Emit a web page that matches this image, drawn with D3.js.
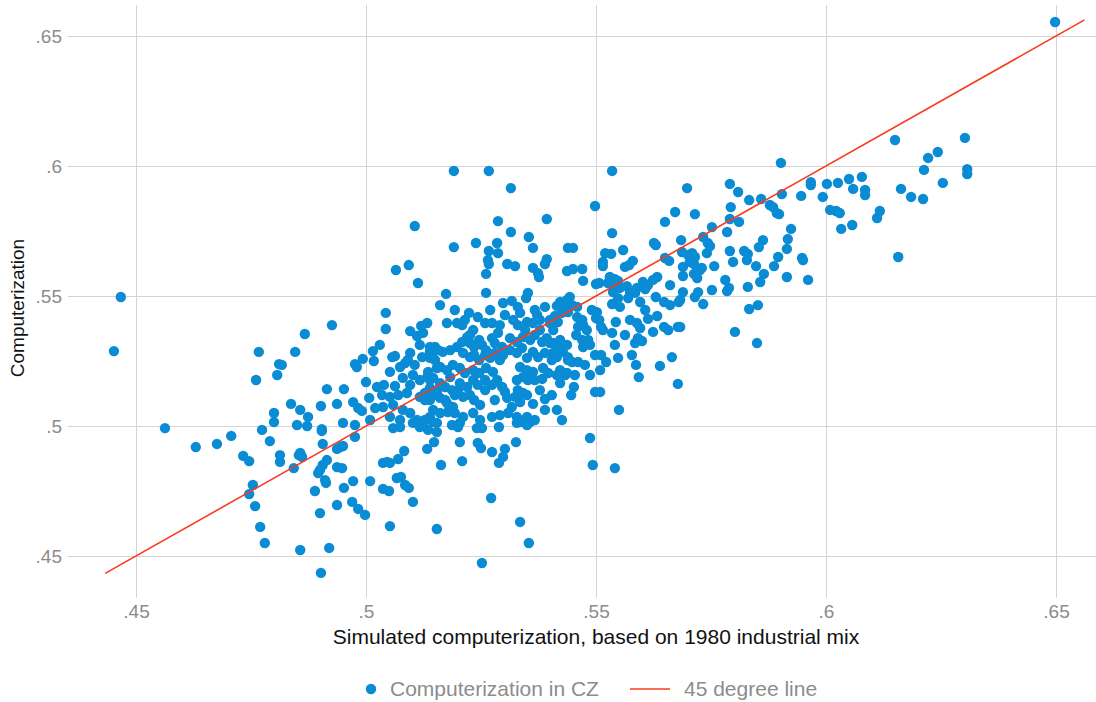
<!DOCTYPE html>
<html>
<head>
<meta charset="utf-8">
<script src="https://cdn.jsdelivr.net/npm/d3@7"></script>
<style>
  body { margin: 0; background: #fff; }
  text { font-family: Arial, "Liberation Sans", Helvetica, sans-serif; }
</style>
</head>
<body>
<div id="chart"></div>
<script>
// chart size
var svgWidth = 1096;
var svgHeight = 702;

// data: [simulated computerization, computerization] for each CZ
var czPoints = [
  [.4467,.5496],[.4452,.5288],[.4563,.4992],[.4630,.4919],[.4676,.4931],[.4707,.4962],[.4733,.4885],[.4746,.4865],
  [.4754,.4773],[.4746,.4738],[.4759,.4692],[.4770,.4612],[.4780,.4550],[.4767,.5285],[.4761,.5177],[.4811,.5238],
  [.4817,.5235],[.4807,.5196],[.4846,.5285],[.4837,.5085],[.4800,.5050],[.4800,.5015],[.4774,.4985],[.4791,.4942],
  [.4813,.4888],[.4813,.4862],[.4843,.4838],[.4857,.4523],[.4850,.5004],[.4857,.5062],[.4854,.4888],
  [.5113,.5550],[.5043,.5435],[.5043,.5373],[.4926,.5388],[.4867,.5354],[.5096,.5365],[.5111,.5346],[.5120,.5385],
  [.5133,.5396],[.5015,.5288],[.5017,.5250],[.4993,.5258],[.4976,.5238],[.4980,.5227],[.5057,.5265],[.5063,.5269],
  [.5074,.5227],[.5085,.5242],[.5091,.5254],[.5096,.5281],[.5122,.5265],[.5139,.5285],[.5150,.5304],[.5000,.5169],
  [.4915,.5142],[.4952,.5142],[.5024,.5150],[.5039,.5158],[.5063,.5154],[.5007,.5108],[.4874,.5035],[.4872,.5000],
  [.4902,.5077],[.4937,.5085],[.4972,.5092],[.4983,.5069],[.4991,.5058],[.4950,.5012],[.4904,.4988],[.4976,.5004],
  [.5009,.5023],[.5020,.5069],[.5035,.5119],[.5052,.5112],[.5070,.5119],[.5089,.5127],[.5037,.5073],[.5059,.5081],
  [.5080,.5062],[.5052,.5035],[.5074,.5023],[.5096,.5050],[.5111,.5023],[.5146,.5119],[.5154,.5138],[.5139,.5177],
  [.5135,.5208],[.5154,.5223],[.5146,.5062],[.5139,.5035],[.5154,.5012],[.5128,.5100],
  [.5174,.5508],[.5261,.5512],[.5352,.5512],[.5348,.5492],[.5298,.5473],[.5317,.5481],[.5330,.5458],[.5335,.5435],
  [.5367,.5446],[.5372,.5427],[.5389,.5458],[.5224,.5435],[.5243,.5419],[.5176,.5396],[.5198,.5396],[.5209,.5388],
  [.5124,.5358],[.5259,.5396],[.5274,.5396],[.5233,.5369],[.5226,.5350],[.5320,.5408],[.5330,.5388],[.5350,.5400],
  [.5363,.5396],[.5378,.5408],[.5400,.5396],[.5139,.5304],[.5146,.5285],[.5157,.5292],[.5167,.5285],[.5183,.5292],
  [.5150,.5254],[.5139,.5262],[.5198,.5304],[.5209,.5323],[.5220,.5342],[.5226,.5319],[.5235,.5304],[.5246,.5331],
  [.5252,.5312],[.5261,.5292],[.5274,.5338],[.5280,.5319],[.5287,.5358],[.5296,.5304],[.5211,.5281],[.5226,.5265],
  [.5235,.5273],[.5246,.5254],[.5259,.5273],[.5270,.5262],[.5280,.5281],[.5291,.5254],[.5298,.5273],[.5161,.5227],
  [.5176,.5215],[.5189,.5235],[.5204,.5223],[.5215,.5204],[.5233,.5215],[.5246,.5204],[.5261,.5223],[.5276,.5208],
  [.5313,.5338],[.5328,.5323],[.5341,.5342],[.5357,.5331],[.5367,.5350],[.5383,.5323],[.5393,.5338],[.5407,.5319],
  [.5422,.5331],[.5437,.5312],[.5313,.5292],[.5328,.5281],[.5339,.5300],[.5350,.5262],[.5363,.5285],[.5374,.5265],
  [.5389,.5281],[.5404,.5254],[.5415,.5273],[.5428,.5285],[.5439,.5254],[.5335,.5227],[.5350,.5215],[.5363,.5208],
  [.5341,.5188],[.5352,.5177],[.5367,.5177],[.5385,.5223],[.5396,.5204],[.5422,.5215],[.5433,.5196],[.5117,.5177],
  [.5133,.5188],[.5146,.5185],[.5161,.5165],[.5139,.5146],[.5128,.5127],[.5154,.5127],[.5172,.5150],[.5187,.5138],
  [.5204,.5165],[.5220,.5150],[.5233,.5177],[.5243,.5158],[.5259,.5138],[.5274,.5158],[.5285,.5177],[.5296,.5150],
  [.5117,.5112],[.5139,.5100],[.5161,.5108],[.5176,.5088],[.5189,.5073],[.5211,.5112],[.5226,.5119],[.5235,.5100],
  [.5259,.5177],[.5328,.5177],[.5330,.5138],[.5341,.5127],[.5383,.5181],[.5389,.5104],[.5307,.5108],[.5317,.5073],
  [.5335,.5092],[.5363,.5085],[.5274,.5035],[.5291,.5042],[.5309,.5050],[.5328,.5035],[.5350,.5035],[.5367,.5023],
  [.5335,.5015],[.5178,.5054],[.5193,.5050],[.5211,.5035],[.5233,.5050],[.5248,.5023],[.5204,.5012],[.5161,.5050],
  [.5146,.5015],[.5128,.5023],
  [.5080,.5185],[.5096,.5158],[.5102,.5196],[.5172,.5100],[.5193,.5119],[.5183,.5188],[.5200,.5138],
  [.5248,.5081],[.5280,.5100],[.5302,.5131],[.5324,.5112],[.5350,.5119],[.5378,.5138],[.5404,.5119],[.5415,.5062],
  [.5389,.5062],[.5446,.5119],[.5346,.5369],[.5378,.5369],[.5407,.5369],[.5457,.5350],[.5487,.5312],[.5498,.5273],
  [.5476,.5235],[.5454,.5196],[.5487,.5196],[.5509,.5215],[.5541,.5312],[.5563,.5350],[.5574,.5408],[.5607,.5446],
  [.5161,.5465],[.5193,.5446],[.5215,.5408],[.5291,.5388],[.5302,.5427],[.5270,.5446],[.5030,.5312],[.5052,.5208],
  [.5106,.5235],[.5117,.5312],[.5596,.5477],[.5630,.5496],
  [.5626,.5704],[.5630,.5696],[.5439,.5685],[.5450,.5685],[.5520,.5665],[.5533,.5662],[.5559,.5677],[.5580,.5635],
  [.5572,.5619],[.5563,.5612],[.5515,.5631],[.5515,.5615],[.5650,.5646],[.5659,.5635],[.5437,.5596],[.5450,.5604],
  [.5470,.5604],[.5472,.5558],[.5500,.5546],[.5507,.5550],[.5530,.5573],[.5541,.5565],[.5526,.5550],[.5537,.5542],
  [.5548,.5558],[.5537,.5515],[.5552,.5531],[.5567,.5538],[.5574,.5515],[.5570,.5492],[.5585,.5512],[.5589,.5531],
  [.5602,.5554],[.5613,.5542],[.5607,.5527],[.5624,.5562],[.5633,.5573],[.5661,.5542],[.5648,.5477],[.5661,.5465],
  [.5680,.5477],[.5689,.5515],[.5720,.5569],[.5548,.5492],[.5535,.5469],[.5552,.5458],[.5543,.5400],[.5589,.5396],
  [.5596,.5377],[.5613,.5412],[.5633,.5423],[.5624,.5362],[.5648,.5381],[.5657,.5369],[.5678,.5381],[.5591,.5338],
  [.5600,.5327],[.5585,.5319],[.5437,.5485],[.5443,.5496],[.5422,.5477],[.5415,.5462],[.5433,.5454],[.5448,.5465],
  [.5459,.5458],[.5400,.5408],[.5411,.5423],[.5426,.5435],[.5439,.5438],[.5417,.5400],[.5459,.5419],[.5470,.5408],
  [.5472,.5389],[.5461,.5381],[.5480,.5369],[.5491,.5446],[.5502,.5438],[.5507,.5408],[.5500,.5415],[.5511,.5381],
  [.5515,.5369],[.5535,.5358],[.5470,.5331],[.5472,.5304],[.5483,.5331],[.5422,.5304],[.5415,.5265],[.5439,.5265],
  [.5448,.5246],[.5461,.5246],[.5400,.5319],[.5407,.5281],[.5511,.5273],[.5522,.5246],[.5548,.5262],[.5578,.5273],
  [.5587,.5235],[.5593,.5188],[.5639,.5231],[.5665,.5265],[.5415,.5196],[.5437,.5204],
  [.5422,.5165],[.5452,.5150],[.5498,.5131],[.5509,.5131],[.5678,.5162],[.5550,.5062],[.5426,.5023],[.5487,.4954],
  [.5493,.4850],[.5541,.4838],
  [.5163,.4850],[.5209,.4865],[.5133,.4912],[.5148,.4938],[.5204,.4938],[.5243,.4935],[.5250,.4915],[.5274,.4900],
  [.5302,.4912],[.5298,.4881],[.5289,.4858],[.5326,.4938],[.5272,.4723],[.5335,.4631],[.5354,.4550],[.5154,.4604],
  [.5252,.4473],[.5124,.5004],[.5154,.4977],[.5135,.4985],[.5187,.5004],[.5200,.4996],[.5241,.4992],[.5252,.4992],
  [.5289,.4996],[.5328,.5012],[.5350,.5004],[.5357,.5015],
  [.4904,.4981],[.4976,.4958],[.4906,.4931],[.4944,.4919],[.4950,.4923],[.4937,.4912],[.4857,.4896],[.4861,.4881],
  [.4915,.4869],[.4906,.4850],[.4900,.4831],[.4896,.4819],[.4937,.4842],[.4948,.4838],[.4911,.4792],[.4913,.4781],
  [.4889,.4750],[.4952,.4762],[.4972,.4788],[.5009,.4788],[.4900,.4665],[.4937,.4696],[.4970,.4708],[.4983,.4681],
  [.4998,.4658],[.5052,.4615],[.4920,.4531],[.4902,.4435],[.5037,.4858],[.5046,.4862],[.5052,.4858],[.5070,.4873],
  [.5083,.4904],[.5067,.4800],[.5076,.4804],[.5085,.4773],[.5093,.4762],[.5037,.4758],[.5050,.4750],[.5102,.4708],
  [.5059,.4992],[.5074,.4996],[.5102,.5012],[.5117,.4996],
  [.5191,.5981],[.5267,.5981],[.5315,.5915],[.5106,.5769],[.5287,.5788],[.5393,.5796],[.5315,.5746],[.5354,.5727],
  [.5363,.5685],[.5191,.5688],[.5239,.5704],[.5285,.5704],[.5267,.5673],[.5287,.5665],[.5265,.5638],[.5267,.5623],
  [.5307,.5623],[.5324,.5615],[.5363,.5608],[.5374,.5588],[.5376,.5573],[.5393,.5642],[.5389,.5623],[.5261,.5585],
  [.5093,.5619],[.5065,.5600],
  [.5535,.5981],[.5498,.5846],[.5535,.5742],[.5698,.5915],[.5672,.5823],[.5650,.5785],[.5791,.5931],[.5809,.5900],
  [.5685,.5715],
  [.5715,.5815],[.5793,.5842],[.5893,.5819],[.5898,.5815],[.5791,.5796],[.5811,.5785],[.5785,.5746],[.5752,.5765],
  [.6009,.5831],[.6022,.5827],[.6030,.5819],[.6033,.5758],[.6057,.5773],[.5924,.5758],[.5917,.5719],[.5863,.5715],
  [.5854,.5688],[.5915,.5681],[.5896,.5650],[.5887,.5615],[.5865,.5585],[.5857,.5554],[.5915,.5573],[.5948,.5646],
  [.5950,.5638],[.5961,.5562],[.5848,.5615],[.5830,.5535],[.5791,.5673],[.5822,.5673],[.5830,.5662],[.5828,.5638],
  [.5798,.5631],[.5757,.5615],[.5781,.5562],[.5789,.5531],[.5785,.5519],[.5752,.5523],[.5722,.5515],[.5715,.5496],
  [.5733,.5469],[.5683,.5485],[.5726,.5600],[.5720,.5592],[.5713,.5585],[.5730,.5608],[.5709,.5665],[.5700,.5658],
  [.5715,.5650],[.5704,.5631],[.5713,.5623],[.5689,.5612],[.5689,.5577],[.5687,.5669],[.5733,.5727],[.5743,.5704],
  [.5748,.5692],[.5741,.5665],[.5683,.5381],[.5802,.5362],[.5850,.5319],[.5833,.5450],[.5852,.5465],
  [.5902,.6012],[.5833,.5869],[.5859,.5873],[.5878,.5850],[.5885,.5842],[.5904,.5892],[.5946,.5885],[.5967,.5938],
  [.5967,.5927],[.5993,.5881],[.6002,.5931],[.6026,.5935],[.6050,.5950],[.6059,.5912],
  [.6498,.6554],[.6150,.6100],[.6302,.6108],[.6243,.6054],[.6222,.6031],[.6213,.5985],[.6307,.5988],[.6307,.5969],
  [.6254,.5935],[.6163,.5912],[.6185,.5881],[.6211,.5873],[.6078,.5958],[.6085,.5908],[.6085,.5888],[.6117,.5827],
  [.6111,.5800],[.6157,.5650]
];

// 45 degree line runs over this range on both axes
var lineEnds = [.4433, .6562];

// ticks
var xTicks = [.45, .5, .55, .6, .65];
var yTicks = [.45, .5, .55, .6, .65];
var tickLabels = [".45", ".5", ".55", ".6", ".65"];

// titles and legend
var xTitle = "Simulated computerization, based on 1980 industrial mix";
var yTitle = "Computerization";
var legendLabels = ["Computerization in CZ", "45 degree line"];

var dotColor = "#0a8cd5";
var lineColor = "#fa3a1c";
var gridColor = "#d4d4d4";
var tickColor = "#8c8c8c";

var svg = d3.select("#chart")
  .append("svg")
  .attr("width", svgWidth)
  .attr("height", svgHeight);

// scales
var xScale = d3.scaleLinear().domain([.45, .65]).range([136, 1056]);
var yScale = d3.scaleLinear().domain([.45, .65]).range([556, 36]);

// grid, drawn with axes and the ticks stretched across the plot
var xGrid = svg.append("g")
  .attr("transform", "translate(0, 598)")
  .call(d3.axisBottom(xScale).tickValues(xTicks).tickSize(-593).tickFormat((d, i) => tickLabels[i]));

var yGrid = svg.append("g")
  .attr("transform", "translate(1096, 0)")
  .call(d3.axisLeft(yScale).tickValues(yTicks).tickSize(1028).tickFormat((d, i) => tickLabels[i]));

[xGrid, yGrid].forEach(function (g) {
  g.select(".domain").remove();
  g.selectAll(".tick line").attr("stroke", gridColor).attr("stroke-width", 1);
  g.selectAll(".tick text")
    .attr("fill", tickColor)
    .style("font-size", "19px");
});
xGrid.selectAll(".tick text").attr("dy", "0.95em").attr("y", 2);
yGrid.selectAll(".tick text").attr("x", -1034).attr("dy", "0.36em");

// points
svg.append("g")
  .selectAll("circle")
  .data(czPoints)
  .enter()
  .append("circle")
  .attr("cx", d => xScale(d[0]))
  .attr("cy", d => yScale(d[1]))
  .attr("r", 5.2)
  .attr("fill", dotColor);

// 45 degree line
svg.append("line")
  .attr("x1", xScale(lineEnds[0]))
  .attr("y1", yScale(lineEnds[0]))
  .attr("x2", xScale(lineEnds[1]))
  .attr("y2", yScale(lineEnds[1]))
  .attr("stroke", lineColor)
  .attr("stroke-width", 1.6);

// axis titles
svg.append("text")
  .attr("x", 596)
  .attr("y", 644)
  .attr("text-anchor", "middle")
  .style("font-size", "21px")
  .attr("fill", "#111")
  .text(xTitle);

svg.append("text")
  .attr("transform", "translate(24, 308) rotate(-90)")
  .attr("text-anchor", "middle")
  .style("font-size", "19px")
  .attr("fill", "#111")
  .text(yTitle);

// legend
var legend = svg.append("g").attr("transform", "translate(0, 689)");

legend.append("circle")
  .attr("cx", 371)
  .attr("cy", 0)
  .attr("r", 5.2)
  .attr("fill", dotColor);

legend.append("text")
  .attr("x", 390)
  .attr("y", 7)
  .style("font-size", "21px")
  .attr("fill", tickColor)
  .text(legendLabels[0]);

legend.append("line")
  .attr("x1", 630)
  .attr("x2", 670)
  .attr("y1", 0)
  .attr("y2", 0)
  .attr("stroke", lineColor)
  .attr("stroke-width", 1.6);

legend.append("text")
  .attr("x", 684)
  .attr("y", 7)
  .style("font-size", "21px")
  .attr("fill", tickColor)
  .text(legendLabels[1]);
</script>
</body>
</html>
